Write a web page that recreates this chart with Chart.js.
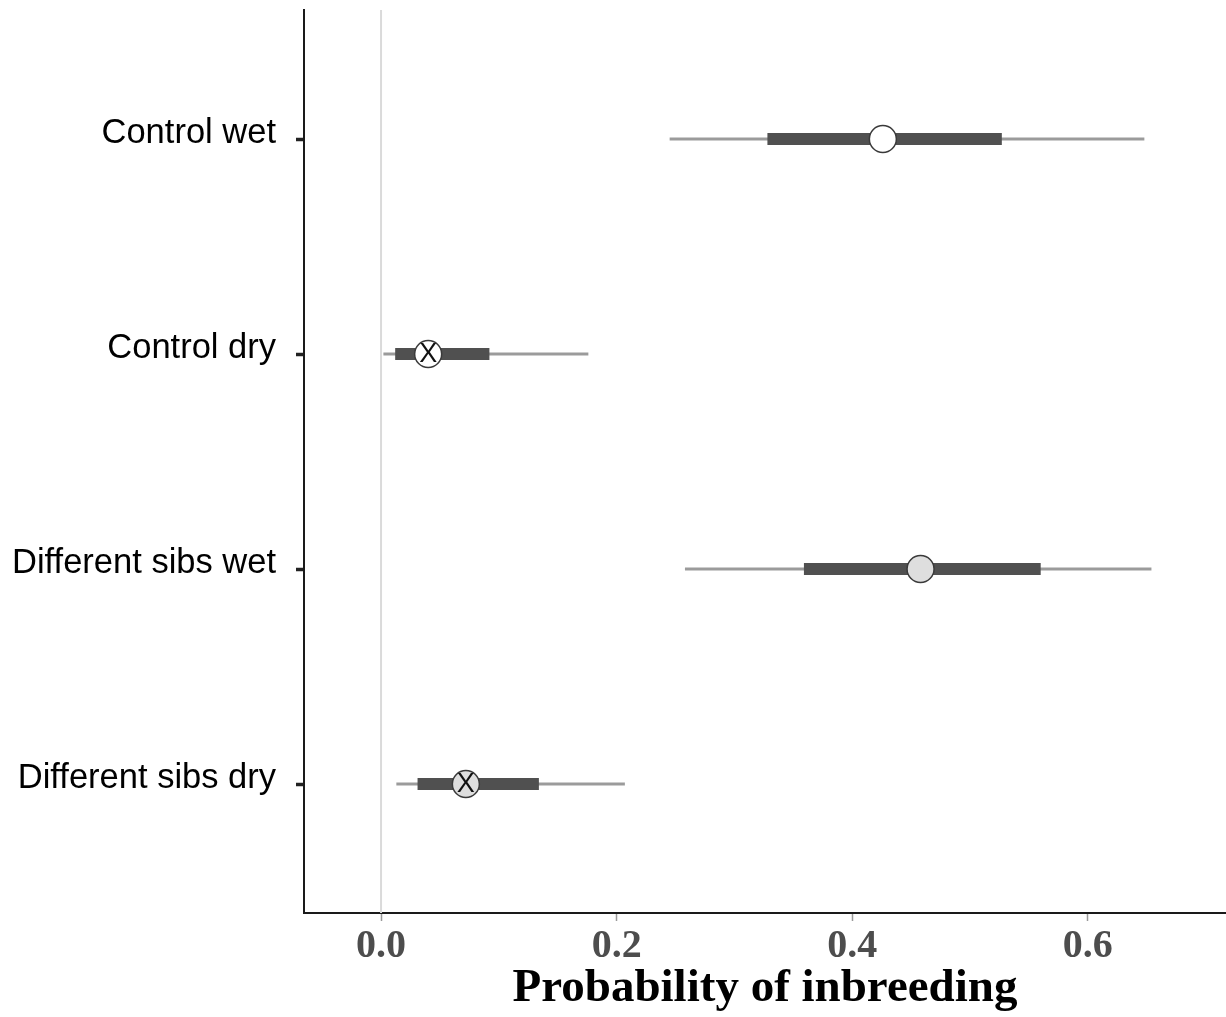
<!DOCTYPE html>
<html>
<head>
<meta charset="utf-8">
<title>Probability of inbreeding</title>
<script src="https://cdn.jsdelivr.net/npm/chart.js@4/dist/chart.umd.min.js"></script>
<style>
  html, body { margin: 0; padding: 0; background: #fff; }
  #wrap { width: 1226px; height: 1017px; }
</style>
</head>
<body>
<div id="wrap"><canvas id="chart" width="1226" height="1017"></canvas></div>
<script>
/* posterior estimates: point, 50% and 95% intervals per group */
const groups = ['Control wet', 'Control dry', 'Different sibs wet', 'Different sibs dry'];
const est  = [0.426, 0.040, 0.458, 0.072];
const lo50 = [0.328, 0.012, 0.359, 0.031];
const hi50 = [0.527, 0.092, 0.560, 0.134];
const lo95 = [0.245, 0.002, 0.258, 0.013];
const hi95 = [0.648, 0.176, 0.654, 0.207];
const marks = ['', 'X', '', 'X'];
const xTicks = [0, 0.2, 0.4, 0.6];

const THIN = '#9b9b9b', THICK = '#505050', EDGE = '#3a3a3a';
const pointFill = ['#ffffff', '#ffffff', '#dedede', '#dedede'];

const rowY = i => i + 1;

const datasets = [];
// zero reference line
datasets.push({
  type: 'line', data: [{ x: 0, y: 0.4 }, { x: 0, y: 4.6 }],
  borderColor: '#dadada', borderWidth: 2, pointRadius: 0, order: 5,
});
groups.forEach((g, i) => {
  datasets.push({
    type: 'line', data: [{ x: lo95[i], y: rowY(i) }, { x: hi95[i], y: rowY(i) }],
    borderColor: THIN, borderWidth: 3, pointRadius: 0, borderCapStyle: 'butt', order: 4,
  });
  datasets.push({
    type: 'line', data: [{ x: lo50[i], y: rowY(i) }, { x: hi50[i], y: rowY(i) }],
    borderColor: THICK, borderWidth: 12, pointRadius: 0, borderCapStyle: 'butt', order: 3,
  });
});
datasets.push({
  type: 'scatter', data: est.map((v, i) => ({ x: v, y: rowY(i) })),
  pointRadius: 13.5, pointBackgroundColor: pointFill, pointBorderColor: EDGE,
  pointBorderWidth: 1.5, order: 1,
});

// letter drawn inside the marked estimate points
const markLetters = {
  id: 'markLetters',
  afterDatasetsDraw(chart) {
    const { ctx, scales: { x, y } } = chart;
    ctx.save();
    ctx.font = '27px "Liberation Sans", Arial, sans-serif';
    ctx.fillStyle = '#111';
    ctx.textAlign = 'center';
    ctx.textBaseline = 'middle';
    marks.forEach((m, i) => {
      if (m) ctx.fillText(m, x.getPixelForValue(est[i]), y.getPixelForValue(rowY(i)) + 1);
    });
    ctx.restore();
  },
};

// fixed axis boxes, no extra label padding
const noPad = s => { s.paddingTop = 0; s.paddingBottom = 0; s.paddingLeft = 0; s.paddingRight = 0; };

new Chart(document.getElementById('chart'), {
  type: 'scatter',
  data: { datasets },
  plugins: [markLetters],
  options: {
    responsive: false, animation: false,
    layout: { autoPadding: false, padding: { top: 10, right: 0, left: 0, bottom: 0 } },
    plugins: { legend: { display: false }, tooltip: { enabled: false } },
    scales: {
      x: {
        type: 'linear', min: -0.0654, max: 0.7173,
        afterBuildTicks: s => { s.ticks = xTicks.map(v => ({ value: v })); },
        afterFit: s => { s.height = 104; noPad(s); },
        grid: { drawOnChartArea: false, tickLength: 8, tickColor: '#9a9a9a', tickWidth: 1.5 },
        border: { color: '#1a1a1a', width: 2 },
        ticks: {
          color: '#4d4d4d', padding: 2,
          font: { family: '"Liberation Serif", "Times New Roman", serif', size: 40, weight: 'bold' },
          callback: v => v.toFixed(1),
        },
        title: {
          display: true, text: 'Probability of inbreeding', color: '#000', padding: { top: 11, bottom: 0 },
          font: { family: '"Liberation Serif", "Times New Roman", serif', size: 47, weight: 'bold' },
        },
      },
      y: {
        type: 'linear', min: 0.4, max: 4.6, reverse: true,
        afterBuildTicks: s => { s.ticks = groups.map((g, i) => ({ value: rowY(i) })); },
        afterFit: s => { s.width = 304; noPad(s); },
        grid: { drawOnChartArea: false, tickLength: 8, tickColor: '#222', tickWidth: 3.5 },
        border: { color: '#1a1a1a', width: 2 },
        ticks: {
          color: '#000', padding: 20, labelOffset: -6,
          font: { family: '"Liberation Sans", Arial, sans-serif', size: 34.5 },
          callback: v => groups[v - 1],
        },
      },
    },
  },
});
</script>
</body>
</html>
